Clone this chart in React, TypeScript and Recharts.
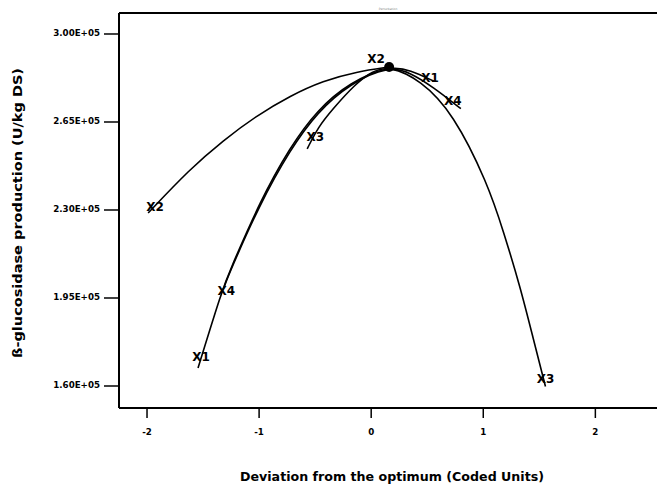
import React from 'react';
import { LineChart, Line, XAxis, YAxis, ReferenceDot, ReferenceLine } from 'recharts';

// perturbation plot - deviation (coded) vs production
const X_TICKS = [-2, -1, 0, 1, 2];
const Y_TICKS = [160000, 195000, 230000, 265000, 300000];
const X_DOMAIN = [-2.25, 2.55];
const Y_DOMAIN = [151250, 308350];

const X1 = [
  { x: -1.545, y: 167200 }, { x: -1.33, y: 198200 }, { x: -1.259, y: 206100 },
  { x: -0.991, y: 233600 }, { x: -0.723, y: 255100 }, { x: -0.482, y: 269800 },
  { x: -0.1875, y: 280900 }, { x: 0.16, y: 287300 }, { x: 0.35, y: 285700 },
  { x: 0.56, y: 281200 },
];
const X2 = [
  { x: -1.99, y: 228800 }, { x: -1.62, y: 246200 }, { x: -1.32, y: 257700 },
  { x: -1.02, y: 267600 }, { x: -0.72, y: 275500 }, { x: -0.43, y: 281400 },
  { x: -0.13, y: 285000 }, { x: 0.16, y: 286900 },
];
const X3 = [
  { x: -0.571, y: 254300 }, { x: -0.473, y: 263000 }, { x: -0.351, y: 269800 },
  { x: -0.143, y: 280100 }, { x: 0.009, y: 285200 }, { x: 0.16, y: 287300 },
  { x: 0.44, y: 281700 }, { x: 0.73, y: 268600 }, { x: 1.04, y: 240500 },
  { x: 1.18, y: 221500 }, { x: 1.33, y: 199400 }, { x: 1.445, y: 179000 },
  { x: 1.555, y: 159800 },
];
const X4 = [
  { x: -1.31, y: 199600 }, { x: -1.259, y: 205600 }, { x: -0.991, y: 232600 },
  { x: -0.723, y: 254000 }, { x: -0.482, y: 268900 }, { x: -0.1875, y: 280400 },
  { x: 0.16, y: 287300 }, { x: 0.35, y: 284600 }, { x: 0.55, y: 279000 },
  { x: 0.8, y: 270300 },
];
const OPTIMUM = { x: 0.16, y: 286900 };

const SERIES = [
  { name: 'X1', data: X1 },
  { name: 'X2', data: X2 },
  { name: 'X3', data: X3 },
  { name: 'X4', data: X4 },
];

// where the end labels sit relative to the curve ends (px)
const LABEL_OFFSETS: Record<string, { start: number[]; end: number[] }> = {
  X1: { start: [3, -11], end: [-4, -4] },
  X2: { start: [7, -6], end: [-13, -8] },
  X3: { start: [8, -12], end: [0, -8] },
  X4: { start: [2, 4], end: [-8, -8] },
};

const FONT = 'DejaVu Sans, Verdana, sans-serif';

const fmtY = (v: number) => (v / 1e5).toFixed(2) + 'E+05';

const YTick = (props: any) => {
  const { x, y, payload } = props;
  return (
    <text x={x} y={y} dy={2} textAnchor="end" fontFamily={FONT} fontWeight="bold" fontSize={8.7} fill="#000">
      {fmtY(payload.value)}
    </text>
  );
};

const XTick = (props: any) => {
  const { x, y, payload } = props;
  return (
    <text x={x} y={y} dy="0.71em" textAnchor="middle" fontFamily={FONT} fontWeight="bold" fontSize={8.7} fill="#000">
      {payload.value}
    </text>
  );
};

const endLabel = (name: string, count: number) => (props: any) => {
  const { x, y, index } = props;
  if (index !== 0 && index !== count - 1) return null;
  const off = LABEL_OFFSETS[name];
  const [dx, dy] = index === 0 ? off.start : off.end;
  return (
    <text key={name + index} x={x + dx} y={y + dy} dy="0.36em" textAnchor="middle"
      fontFamily={FONT} fontWeight="bold" fontSize={12} fill="#000">
      {name}
    </text>
  );
};

export default function App() {
  return (
    <div style={{ position: 'absolute', left: 0, top: 0, width: 657, height: 493, overflow: 'hidden', background: '#fff' }}>
      <LineChart width={657} height={493} margin={{ top: 13, right: 0, bottom: 0, left: 0 }}>
        <XAxis
          type="number"
          dataKey="x"
          domain={X_DOMAIN}
          ticks={X_TICKS}
          height={85}
          tickSize={10}
          tickMargin={11}
          tick={<XTick />}
          axisLine={{ stroke: '#000', strokeWidth: 2 }}
          tickLine={{ stroke: '#000', strokeWidth: 1.5 }}
          allowDataOverflow
        />
        <YAxis
          type="number"
          domain={Y_DOMAIN}
          ticks={Y_TICKS}
          width={119}
          tickSize={15}
          tickMargin={4}
          tick={<YTick />}
          axisLine={{ stroke: '#000', strokeWidth: 2 }}
          tickLine={{ stroke: '#000', strokeWidth: 1.5 }}
          allowDataOverflow
        />
        <ReferenceLine y={Y_DOMAIN[1]} stroke="#000" strokeWidth={2} />
        {SERIES.map((s) => (
          <Line
            key={s.name}
            data={s.data}
            dataKey="y"
            type="basis"
            stroke="#000"
            strokeWidth={1.6}
            dot={false}
            activeDot={false}
            label={endLabel(s.name, s.data.length)}
            isAnimationActive={false}
          />
        ))}
        <ReferenceDot x={OPTIMUM.x} y={OPTIMUM.y} r={5} fill="#000" stroke="none" />
      </LineChart>
      <svg width={657} height={493} style={{ position: 'absolute', left: 0, top: 0, pointerEvents: 'none' }}>
        <text x={388} y={10} textAnchor="middle" fontFamily={FONT} fontSize={3} fill="#888">Perturbation</text>
        <text x={392} y={481} textAnchor="middle" fontFamily={FONT} fontWeight="bold" fontSize={12.5}
          textLength={304} lengthAdjust="spacingAndGlyphs" fill="#000">
          Deviation from the optimum (Coded Units)
        </text>
        <text x={0} y={0} transform="translate(22,213) rotate(-90)" textAnchor="middle" fontFamily={FONT}
          fontWeight="bold" fontSize={12.5} textLength={290} lengthAdjust="spacingAndGlyphs" fill="#000">
          ß-glucosidase production (U/kg DS)
        </text>
      </svg>
    </div>
  );
}
